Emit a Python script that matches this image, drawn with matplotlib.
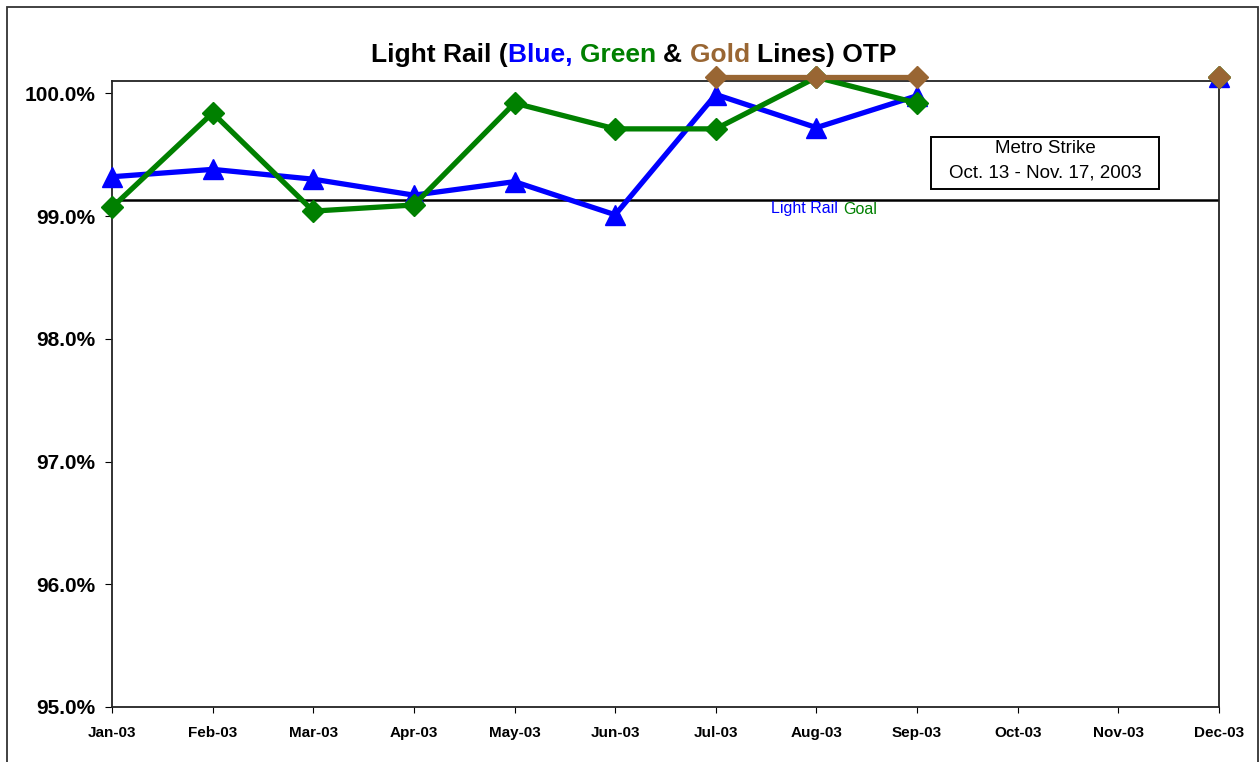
import matplotlib
matplotlib.use("Agg")
import matplotlib.pyplot as plt
import numpy as np
from matplotlib.offsetbox import TextArea, HPacker, AnnotationBbox
from matplotlib.patches import Rectangle

plt.rcParams['font.family'] = ['Liberation Sans', 'DejaVu Sans']

months = ['Jan-03', 'Feb-03', 'Mar-03', 'Apr-03', 'May-03', 'Jun-03',
          'Jul-03', 'Aug-03', 'Sep-03', 'Oct-03', 'Nov-03', 'Dec-03']
# on-time performance, % (nan = no service / strike)
blue = [99.32, 99.38, 99.30, 99.17, 99.28, 99.01, 99.99, 99.72, 99.98, np.nan, np.nan, 100.13]
green = [99.07, 99.84, 99.04, 99.09, 99.92, 99.71, 99.71, 100.13, 99.92, np.nan, np.nan, 100.13]
gold = [np.nan, np.nan, np.nan, np.nan, np.nan, np.nan, 100.13, 100.13, 100.13, np.nan, np.nan, 100.13]
goal = 99.13

BLUE = '#0000ff'
GREEN = '#008000'
GOLD = '#996633'

W, H = 1260, 762
fig = plt.figure(figsize=(12.6, 7.62), dpi=100)
# outer chart border
fig.patches.append(Rectangle((7/W, -0.05), (1258-7)/W, 1 + 0.05 - 7/H,
                             transform=fig.transFigure, fill=False,
                             edgecolor='#333333', linewidth=1.3))
ax = fig.add_axes([112/W, 1-707/H, (1219-112)/W, (707-81)/H])

x = np.arange(len(months))
ax.plot(x, blue, color=BLUE, lw=3.8, marker='^', ms=14, mec=BLUE, clip_on=False, zorder=3)
ax.plot(x, green, color=GREEN, lw=3.8, marker='D', ms=11, mec=GREEN, clip_on=False, zorder=4)
ax.plot(x, gold, color=GOLD, lw=3.8, marker='D', ms=11, mec=GOLD, clip_on=False, zorder=5)
ax.axhline(goal, color='black', lw=1.8, zorder=2)

ax.set_xlim(0, 11)
ax.set_ylim(95, 100.1)
ax.set_xticks(x)
ax.set_xticklabels(months, fontsize=11, fontweight='bold')
ax.set_yticks(np.arange(95, 100.01, 1))
ax.set_yticklabels(['%.1f%%' % v for v in np.arange(95, 100.01, 1)],
                   fontsize=15, fontweight='bold')
ax.tick_params(axis='x', length=4, pad=10, width=0.8)
ax.tick_params(axis='y', length=5, pad=7, width=0.8)
for s in ax.spines.values():
    s.set_linewidth(1.3)
    s.set_color('#222222')

# multi-coloured title
parts = [('Light Rail (', 'black'), ('Blue, ', BLUE), ('Green ', GREEN),
         ('& ', 'black'), ('Gold ', GOLD), ('Lines) OTP', 'black')]
boxes = [TextArea(t, textprops=dict(color=c, fontsize=19, fontweight='bold'))
         for t, c in parts]
title = HPacker(children=boxes, align='baseline', pad=0, sep=0)
fig.add_artist(AnnotationBbox(title, (634/W, 1-55/H), xycoords='figure fraction',
                              frameon=False, box_alignment=(0.5, 0.5)))

# goal label
goal_parts = [TextArea('Light Rail ', textprops=dict(color=BLUE, fontsize=11.5)),
              TextArea('Goal', textprops=dict(color=GREEN, fontsize=11.5))]
goal_box = HPacker(children=goal_parts, align='baseline', pad=0, sep=0)
ax.add_artist(AnnotationBbox(goal_box, (824/W, 1-209/H), xycoords='figure fraction',
                             frameon=False, box_alignment=(0.5, 0.5)))

# strike note
fig.patches.append(Rectangle((931/W, 1-189/H), (1159-931)/W, (189-137)/H,
                             transform=fig.transFigure, facecolor='white',
                             edgecolor='black', linewidth=1.4, zorder=6))
fig.text(1045/W, 1-161/H, 'Metro Strike\nOct. 13 - Nov. 17, 2003',
         ha='center', va='center', fontsize=13.5, linespacing=1.55, zorder=7)

fig.savefig('out.png', dpi=100)
